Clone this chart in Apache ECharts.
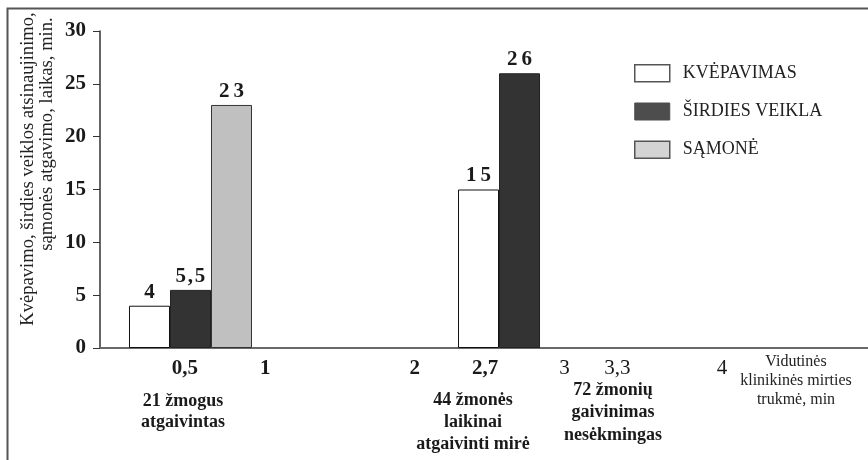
<!DOCTYPE html>
<html>
<head>
<meta charset="utf-8">
<script src="https://cdn.jsdelivr.net/npm/echarts@6/dist/echarts.min.js"></script>
<style>
  html, body { margin: 0; padding: 0; background: #fff; }
  #chart { width: 868px; height: 460px; }
</style>
</head>
<body>
<div id="chart"></div>
<script>
// ---- data ----
const seriesNames = ['KVĖPAVIMAS', 'ŠIRDIES VEIKLA', 'SĄMONĖ'];
const groupX = [0.5, 2.7];               // vidutinė klinikinės mirties trukmė, min
const kvepavimas = [4, 15];
const sirdiesVeikla = [5.5, 26];
const samone = [23, null];
const xTickValues = [0.5, 1, 2, 2.7, 3, 3.3, 4];
const xTickBold = [true, true, true, true, false, false, false];
const yTicks = [0, 5, 10, 15, 20, 25, 30];
const groupNotes = ['21 žmogus\natgaivintas', '44 žmonės\nlaikinai\natgaivinti mirė', '72 žmonių\ngaivinimas\nnesėkmingas'];
const xAxisTitle = 'Vidutinės\nklinikinės mirties\ntrukmė, min';
const yTitleLines = ['Kvėpavimo, širdies veiklos atsinaujinimo,', 'sąmonės atgavimo, laikas, min.'];

const SERIF = '"Liberation Serif", "DejaVu Serif", serif';
const chart = echarts.init(document.getElementById('chart'), null, { renderer: 'canvas' });

function pairs(vals) { return groupX.map((x, i) => [x, vals[i]]); }
function fmtNum(v) {
  const s = String(v).replace('.', ',');
  if (s.indexOf(',') >= 0) return s.split(',').join('\u200A,\u200A');
  return s.split('').join('\u2009');
}

// per-label horizontal nudge (rich padding) for the printed tick labels
const tickNudge = { '0.5': [0, 11, 0, 0], '2.7': [0, 69, 0, 0], '3.3': [0, 0, 0, 16], '4': [0, 0, 0, 16] };
const rich = {};
xTickValues.forEach((v, i) => {
  rich['t' + i] = {
    fontFamily: SERIF, fontSize: 21, color: '#1a1a1a',
    fontWeight: xTickBold[i] ? 'bold' : 'normal',
    padding: tickNudge[String(v)] || [0, 0, 0, 0]
  };
});

const barLabel = {
  show: true, position: 'top', distance: 3,
  fontFamily: SERIF, fontSize: 21, fontWeight: 'bold', color: '#1a1a1a',
  formatter: p => fmtNum(p.value[1])
};

const styles = [
  { color: '#ffffff', borderColor: '#111111', borderWidth: 1 },
  { color: '#333333', borderColor: '#222222', borderWidth: 1 },
  { color: '#c0c0c0', borderColor: '#333333', borderWidth: 1 }
];
const legendStyles = [
  { color: '#ffffff', borderColor: '#555', borderWidth: 1.5 },
  { color: '#4d4d4d', borderColor: '#4d4d4d', borderWidth: 1 },
  { color: '#d4d4d4', borderColor: '#555', borderWidth: 1.5 }
];
const values = [kvepavimas, sirdiesVeikla, samone];

const option = {
  animation: false,
  backgroundColor: '#ffffff',
  grid: { left: 100, right: 0, top: 31, bottom: 112, containLabel: false },
  legend: {
    orient: 'vertical', left: 629, top: 59,
    itemWidth: 35, itemHeight: 17, itemGap: 20,
    icon: 'rect',
    textStyle: { fontFamily: SERIF, fontSize: 18, color: '#222', padding: [0, 0, 0, 8] },
    data: seriesNames.map((n, i) => ({ name: n, itemStyle: legendStyles[i] }))
  },
  xAxis: {
    type: 'value', min: -0.105, max: 5.03,
    axisLine: { show: true, onZero: false, lineStyle: { color: '#6a6a6a', width: 2 } },
    axisTick: { show: false },
    splitLine: { show: false },
    axisLabel: {
      show: true, margin: 10,
      customValues: xTickValues,
      formatter: v => {
        const i = xTickValues.findIndex(t => Math.abs(t - v) < 1e-9);
        return '{t' + i + '|' + String(v).replace('.', ',') + '}';
      },
      rich: rich
    }
  },
  yAxis: {
    type: 'value', min: 0, max: 30, interval: 5,
    axisLine: { show: true, onZero: false, lineStyle: { color: '#333', width: 1.5 } },
    axisTick: { show: true, length: 7, lineStyle: { color: '#333', width: 1 } },
    splitLine: { show: false },
    axisLabel: {
      margin: 14, fontFamily: SERIF, fontSize: 21, fontWeight: 'bold', color: '#1a1a1a',
      formatter: v => yTicks.includes(v) ? String(v) : ''
    }
  },
  series: seriesNames.map((n, i) => ({
    name: n, type: 'bar',
    barWidth: 41, barGap: '0%',
    itemStyle: styles[i],
    label: barLabel,
    data: pairs(values[i])
  })),
  graphic: [
    { type: 'polyline', silent: true, z: 100,
      shape: { points: [[7.5, 460], [7.5, 8.5], [868, 8.5]] },
      style: { stroke: '#555', lineWidth: 2, fill: null } },
    { type: 'text', x: 28, y: 169, rotation: Math.PI / 2,
      style: { text: yTitleLines[0], fontFamily: SERIF, fontSize: 18.6, fill: '#222', align: 'center', verticalAlign: 'middle' } },
    { type: 'text', x: 47, y: 134, rotation: Math.PI / 2,
      style: { text: yTitleLines[1], fontFamily: SERIF, fontSize: 18.6, fill: '#222', align: 'center', verticalAlign: 'middle' } },
    { type: 'text', x: 183, y: 391,
      style: { text: groupNotes[0], fontFamily: SERIF, fontSize: 18, fontWeight: 'bold', lineHeight: 21, fill: '#1a1a1a', align: 'center', verticalAlign: 'top' } },
    { type: 'text', x: 473, y: 389,
      style: { text: groupNotes[1], fontFamily: SERIF, fontSize: 18, fontWeight: 'bold', lineHeight: 22, fill: '#1a1a1a', align: 'center', verticalAlign: 'top' } },
    { type: 'text', x: 613, y: 379,
      style: { text: groupNotes[2], fontFamily: SERIF, fontSize: 18, fontWeight: 'bold', lineHeight: 22.5, fill: '#1a1a1a', align: 'center', verticalAlign: 'top' } },
    { type: 'text', x: 796, y: 352,
      style: { text: xAxisTitle, fontFamily: SERIF, fontSize: 16, lineHeight: 19, fill: '#222', align: 'center', verticalAlign: 'top' } }
  ]
};
chart.setOption(option);
</script>
</body>
</html>
